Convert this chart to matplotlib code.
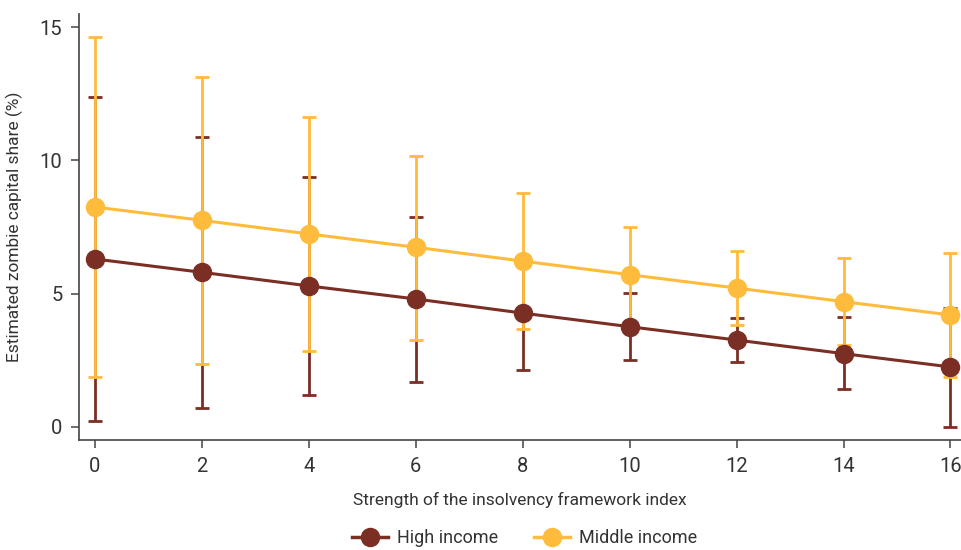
import matplotlib
matplotlib.use("Agg")
import matplotlib.pyplot as plt
from matplotlib.lines import Line2D

# index values on the x axis
index = [0, 2, 4, 6, 8, 10, 12, 14, 16]

# estimated zombie capital share (%) with confidence bounds
high_est = [6.30, 5.80, 5.29, 4.80, 4.27, 3.76, 3.26, 2.75, 2.25]
high_hi = [12.37, 10.87, 9.37, 7.87, 6.42, 5.02, 4.09, 4.11, 4.47]
high_lo = [0.22, 0.70, 1.20, 1.68, 2.14, 2.51, 2.43, 1.41, 0.01]

mid_est = [8.25, 7.75, 7.24, 6.74, 6.22, 5.71, 5.21, 4.70, 4.20]
mid_hi = [14.62, 13.12, 11.62, 10.18, 8.77, 7.50, 6.60, 6.33, 6.53]
mid_lo = [1.87, 2.36, 2.84, 3.26, 3.66, 3.90, 3.84, 3.06, 1.86]

dark_red = "#7B2E24"
yellow = "#FFBB3B"
txt = "#333333"

plt.rcParams["font.family"] = ["Roboto", "DejaVu Sans"]

fig = plt.figure(figsize=(9.61, 5.5), dpi=100)
ax = fig.add_axes([0.0822, 0.2, 0.918, 0.7745])

handles = []
for est, lo, hi, col, lab in [(high_est, high_lo, high_hi, dark_red, "High income"),
                              (mid_est, mid_lo, mid_hi, yellow, "Middle income")]:
    err = [[e - l for e, l in zip(est, lo)], [h - e for e, h in zip(est, hi)]]
    ax.errorbar(index, est, yerr=err, color=col, ecolor=col, lw=2.2, elinewidth=2.0,
                capsize=5, capthick=2.0, marker="o", markersize=13)
    handles.append(Line2D([], [], color=col, lw=2.5, marker="o", markersize=13, label=lab))

ax.set_xlim(-0.3, 16.2)
ax.set_ylim(-0.49, 15.49)
ax.set_xticks(index)
ax.set_yticks([0, 5, 10, 15])
for s in ["top", "right"]:
    ax.spines[s].set_visible(False)
for s in ["left", "bottom"]:
    ax.spines[s].set_color("#444444")
    ax.spines[s].set_linewidth(1.2)
ax.tick_params(direction="out", length=6, width=1.1, color="#444444",
               labelsize=14.5, labelcolor=txt, pad=6)

ax.set_xlabel("Strength of the insolvency framework index", fontsize=12.5, color=txt, labelpad=12)
ax.set_ylabel("Estimated zombie capital share (%)", fontsize=12.5, color=txt, labelpad=12)

ax.legend(handles=handles, loc="lower center", bbox_to_anchor=(0.505, -0.29), ncol=2,
          frameon=False, fontsize=13, labelcolor=txt, handlelength=2.0,
          columnspacing=2.0, handletextpad=0.5)

fig.savefig("out.png", dpi=100)
